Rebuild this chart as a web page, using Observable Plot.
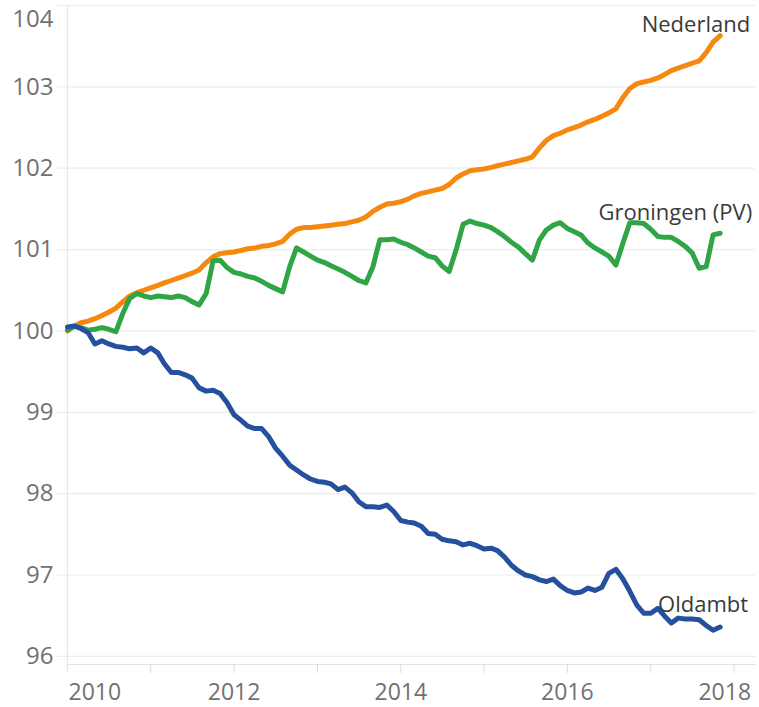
<!DOCTYPE html>
<html>
<head>
<meta charset="utf-8">
<script src="https://cdn.jsdelivr.net/npm/d3@7"></script>
<script src="https://cdn.jsdelivr.net/npm/@observablehq/plot@0.6"></script>
<style>
  html, body { margin: 0; padding: 0; background: #fff; }
  #chart { width: 759px; height: 707px; }
</style>
</head>
<body>
<div id="chart"></div>
<script>
// Monthly index values, Jan 2010 .. Nov 2017 (95 months)
const nederland = [
  100.00,100.06,100.10,100.12,100.15,100.19,100.23,100.28,100.36,100.43,100.47,100.50,
  100.53,100.56,100.59,100.62,100.65,100.68,100.71,100.75,100.84,100.91,100.95,100.96,
  100.97,100.99,101.01,101.02,101.04,101.05,101.07,101.10,101.19,101.25,101.27,101.27,
  101.28,101.29,101.30,101.31,101.32,101.34,101.36,101.40,101.47,101.52,101.56,101.57,
  101.59,101.62,101.66,101.69,101.71,101.73,101.75,101.80,101.88,101.93,101.97,101.98,
  101.99,102.01,102.03,102.05,102.07,102.09,102.11,102.14,102.25,102.34,102.40,102.43,
  102.47,102.50,102.53,102.57,102.60,102.64,102.68,102.73,102.87,102.98,103.04,103.06,
  103.08,103.11,103.15,103.20,103.23,103.26,103.29,103.32,103.42,103.55,103.63
];
const groningen = [
  100.01,100.06,100.04,100.01,100.02,100.04,100.02,99.99,100.22,100.40,100.46,100.43,
  100.41,100.43,100.42,100.41,100.43,100.41,100.36,100.32,100.46,100.86,100.87,100.78,
  100.72,100.70,100.67,100.65,100.61,100.56,100.52,100.48,100.79,101.02,100.97,100.92,
  100.87,100.84,100.80,100.76,100.72,100.67,100.62,100.59,100.79,101.12,101.12,101.13,
  101.09,101.06,101.02,100.97,100.92,100.90,100.80,100.73,101.00,101.31,101.35,101.32,
  101.30,101.27,101.22,101.16,101.09,101.03,100.95,100.87,101.12,101.24,101.30,101.33,
  101.26,101.22,101.18,101.08,101.02,100.97,100.92,100.81,101.08,101.33,101.33,101.32,
  101.25,101.16,101.15,101.15,101.10,101.04,100.96,100.77,100.79,101.18,101.20
];
const oldambt = [
  100.05,100.06,100.03,99.98,99.84,99.88,99.84,99.81,99.80,99.78,99.79,99.73,
  99.79,99.73,99.60,99.49,99.49,99.46,99.42,99.30,99.26,99.27,99.23,99.12,
  98.97,98.90,98.83,98.80,98.80,98.70,98.56,98.46,98.35,98.29,98.23,98.18,
  98.15,98.14,98.12,98.05,98.08,98.01,97.90,97.84,97.84,97.83,97.86,97.78,
  97.67,97.65,97.64,97.60,97.51,97.50,97.44,97.42,97.41,97.37,97.39,97.36,
  97.32,97.33,97.30,97.22,97.12,97.05,97.00,96.98,96.94,96.92,96.95,96.87,
  96.81,96.78,96.79,96.84,96.81,96.85,97.02,97.07,96.95,96.80,96.63,96.53,
  96.53,96.59,96.50,96.41,96.47,96.46,96.46,96.45,96.38,96.32,96.36
];
const seriesNames = ["Nederland", "Groningen (PV)", "Oldambt"];
const seriesValues = [nederland, groningen, oldambt];
const seriesColors = ["#f5890f", "#30a545", "#24509e"];
const yTicks = [96, 97, 98, 99, 100, 101, 102, 103, 104];
const xTickYears = [2010, 2011, 2012, 2013, 2014, 2015, 2016, 2017, 2018];
const xLabelYears = [2010, 2012, 2014, 2016, 2018];

const start = new Date(Date.UTC(2010, 0, 1));
const months = d3.utcMonth.range(start, d3.utcMonth.offset(start, nederland.length));
const rows = [];
seriesNames.forEach((name, i) => {
  seriesValues[i].forEach((v, j) => rows.push({series: name, date: months[j], value: v}));
});
const lastRows = seriesNames.map((name, i) => ({
  series: name, date: months[months.length - 1], value: seriesValues[i][seriesValues[i].length - 1]
}));
const yearDate = y => new Date(Date.UTC(y, 0, 1));
const tickDates = xTickYears.map(yearDate);
const midLabels = xLabelYears.slice(1, -1).map(yearDate);

const labelOffsets = {
  "Nederland": {dx: 30, dy: -11},
  "Groningen (PV)": {dx: 32, dy: -20},
  "Oldambt": {dx: 28, dy: -22}
};

const tickFont = {fontSize: 24, fill: "#717171"};
const xFont = {fontSize: 23, fill: "#717171"};

const chart = Plot.plot({
  width: 759,
  height: 707,
  marginLeft: 67,
  marginRight: 4,
  marginTop: 5,
  marginBottom: 43,
  style: {fontFamily: "'Open Sans', sans-serif", background: "#fff"},
  x: {type: "utc", domain: [start, new Date(Date.UTC(2018, 3, 5))]},
  y: {domain: [95.9, 104]},
  color: {domain: seriesNames, range: seriesColors},
  marks: [
    Plot.gridY(yTicks, {stroke: "#ececec", strokeOpacity: 1, strokeWidth: 1.2, insetLeft: -10}),
    Plot.frame({anchor: "bottom", stroke: "#e2e2e2", strokeWidth: 1.2}),
    Plot.ruleX(tickDates.slice(0, 1), {stroke: "#e6e6e6", strokeWidth: 1.2, insetBottom: -9}),
    Plot.axisY(yTicks.slice(0, -1), {tickSize: 0, tickPadding: 14, tickFormat: d => String(d), ...tickFont, label: null}),
    Plot.axisY(yTicks.slice(-1), {tickSize: 0, tickPadding: 14, dy: 14, tickFormat: d => String(d), ...tickFont, label: null}),
    Plot.axisX(tickDates.slice(1), {tickSize: 9, stroke: "#dcdcdc", text: null, label: null}),
    Plot.axisX(midLabels, {tickSize: 0, tickPadding: 19, tickFormat: d3.utcFormat("%Y"), ...xFont, label: null}),
    Plot.axisX([yearDate(xLabelYears[0])], {tickSize: 0, tickPadding: 19, textAnchor: "start", dx: 1, tickFormat: d3.utcFormat("%Y"), ...xFont, label: null}),
    Plot.axisX([yearDate(xLabelYears[xLabelYears.length - 1])], {tickSize: 0, tickPadding: 19, textAnchor: "end", dx: 17, tickFormat: d3.utcFormat("%Y"), ...xFont, label: null}),
    Plot.line(rows, {x: "date", y: "value", z: "series", stroke: "series", strokeWidth: 5, strokeLinejoin: "round", strokeLinecap: "round"}),
    ...lastRows.map(r => Plot.text([r], {
      x: "date", y: "value", text: "series", textAnchor: "end",
      dx: labelOffsets[r.series].dx, dy: labelOffsets[r.series].dy,
      fontSize: 22, fill: "#3a3a3a"
    }))
  ]
});
document.getElementById("chart").appendChild(chart);
</script>
</body>
</html>
